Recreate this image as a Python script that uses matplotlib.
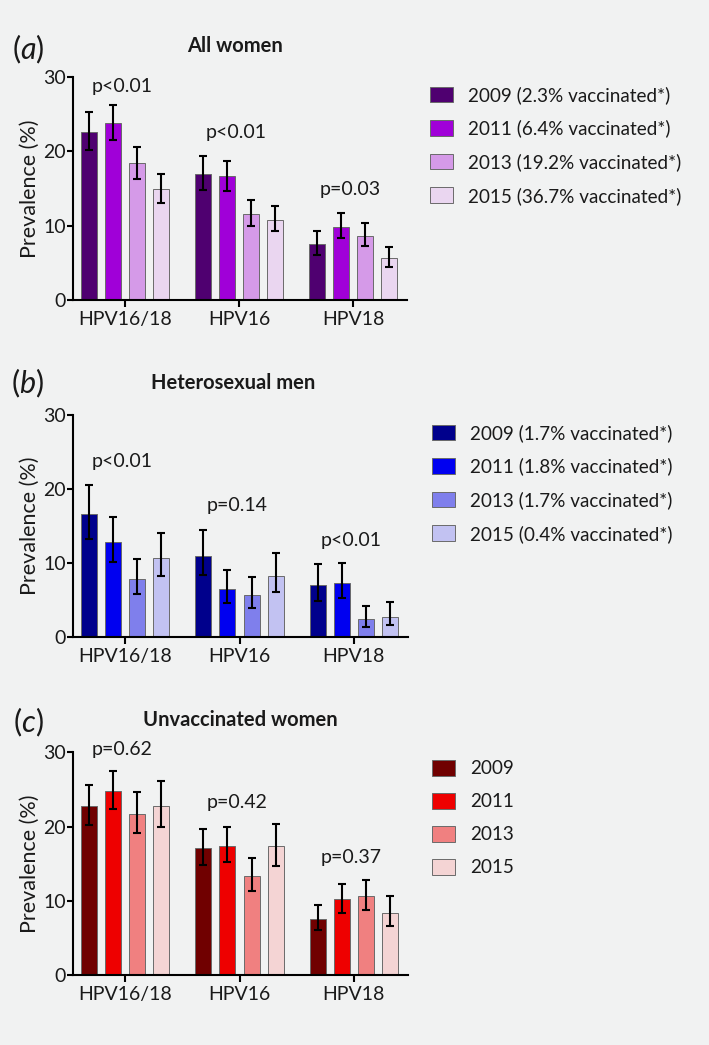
import matplotlib
matplotlib.use("Agg")
import matplotlib.pyplot as plt
import numpy as np

plt.rcParams['font.family'] = ['Lato', 'DejaVu Sans']
plt.rcParams['mathtext.fontset'] = 'custom'
plt.rcParams['mathtext.it'] = 'Lato:italic'
plt.rcParams['mathtext.rm'] = 'Lato'

categories = ['HPV16/18', 'HPV16', 'HPV18']
years = ['2009', '2011', '2013', '2015']

# Panel (a) All women
a_vals = [[22.6, 16.9, 7.5], [23.8, 16.6, 9.8], [18.4, 11.5, 8.6], [14.9, 10.8, 5.7]]
a_low = [[20.2, 14.8, 6.0], [21.5, 14.6, 8.3], [16.3, 9.9, 7.2], [13.0, 9.3, 4.5]]
a_high = [[25.2, 19.3, 9.3], [26.2, 18.7, 11.7], [20.6, 13.4, 10.3], [16.9, 12.6, 7.1]]
a_pvals = ['p<0.01', 'p<0.01', 'p=0.03']
a_py = [28.7, 22.5, 14.8]
a_labels = ['2009 (2.3% vaccinated*)', '2011 (6.4% vaccinated*)',
            '2013 (19.2% vaccinated*)', '2015 (36.7% vaccinated*)']
a_colors = ['#4f0070', '#a000d8', '#d59ae8', '#ead6f0']

# Panel (b) Heterosexual men
b_vals = [[16.6, 11.0, 7.0], [12.9, 6.5, 7.3], [7.8, 5.7, 2.4], [10.7, 8.3, 2.7]]
b_low = [[13.2, 8.4, 4.9], [10.2, 4.6, 5.3], [5.8, 4.0, 1.4], [8.2, 6.1, 1.6]]
b_high = [[20.5, 14.5, 9.9], [16.2, 9.1, 10.0], [10.5, 8.1, 4.2], [14.0, 11.3, 4.7]]
b_pvals = ['p<0.01', 'p=0.14', 'p<0.01']
b_py = [23.7, 17.7, 13.0]
b_labels = ['2009 (1.7% vaccinated*)', '2011 (1.8% vaccinated*)',
            '2013 (1.7% vaccinated*)', '2015 (0.4% vaccinated*)']
b_colors = ['#00008c', '#0000f0', '#7f7fec', '#c2c2f2']

# Panel (c) Unvaccinated women
c_vals = [[22.8, 17.1, 7.5], [24.8, 17.4, 10.2], [21.7, 13.3, 10.6], [22.8, 17.4, 8.4]]
c_low = [[20.2, 14.8, 6.0], [22.4, 15.2, 8.4], [19.1, 11.3, 8.7], [19.9, 14.7, 6.6]]
c_high = [[25.6, 19.7, 9.4], [27.5, 19.9, 12.2], [24.6, 15.8, 12.8], [26.1, 20.3, 10.7]]
c_pvals = ['p=0.62', 'p=0.42', 'p=0.37']
c_py = [30.4, 23.2, 15.8]
c_labels = ['2009', '2011', '2013', '2015']
c_colors = ['#700000', '#ee0000', '#f08080', '#f4d4d4']

panel_letters = ['a', 'b', 'c']
panel_titles = ['All women', 'Heterosexual men', 'Unvaccinated women']

BG = '#f1f2f2'
TXT = '#1a1a1a'
W, H = 709, 1045
fig = plt.figure(figsize=(W / 100, H / 100), dpi=100, facecolor=BG)

def fx(px):
    return px / W

def fy(py):
    return 1 - py / H

panels = [
    dict(vals=a_vals, low=a_low, high=a_high, pv=a_pvals, py=a_py, labels=a_labels, colors=a_colors,
         ax=(72.7, 407, 76.7, 300), leg=(430, 86), title=(235, 46), letter_y=49),
    dict(vals=b_vals, low=b_low, high=b_high, pv=b_pvals, py=b_py, labels=b_labels, colors=b_colors,
         ax=(72.7, 408, 414.7, 637.3), leg=(432, 424), title=(233, 383), letter_y=383),
    dict(vals=c_vals, low=c_low, high=c_high, pv=c_pvals, py=c_py, labels=c_labels, colors=c_colors,
         ax=(72.7, 408, 752.3, 975), leg=(432, 760), title=(240, 720), letter_y=722),
]

group_gap = 4.75
bar_w = 0.667
centers = np.arange(len(categories)) * group_gap

for k, p in enumerate(panels):
    x0, x1, y0, y1 = p['ax']
    ax = fig.add_axes([fx(x0), fy(y1), (x1 - x0) / W, (y1 - y0) / H])
    ax.set_facecolor(BG)
    handles = []
    for j in range(len(years)):
        xs = centers + (j - 1.5)
        v = np.array(p['vals'][j])
        lo = v - np.array(p['low'][j])
        hi = np.array(p['high'][j]) - v
        b = ax.bar(xs, v, width=bar_w, color=p['colors'][j], edgecolor='#6a6a6a',
                   linewidth=0.7, zorder=2)
        ax.errorbar(xs, v, yerr=[lo, hi], fmt='none', ecolor='black', elinewidth=1.5,
                    capsize=3, capthick=1.5, zorder=3)
        handles.append(b)
    for i, txt in enumerate(p['pv']):
        ax.text(centers[i] - 0.12, p['py'][i], txt, ha='center', va='center',
                fontsize=14, color=TXT)
    ax.set_xlim(-2.18, centers[-1] + 2.25)
    ax.set_ylim(0, 30)
    ax.set_yticks([0, 10, 20, 30])
    ax.set_xticks(centers)
    ax.set_xticklabels(categories)
    for s in ['top', 'right']:
        ax.spines[s].set_visible(False)
    for s in ['left', 'bottom']:
        ax.spines[s].set_linewidth(1.5)
        ax.spines[s].set_color('black')
    ax.tick_params(axis='y', length=4, width=1.5, pad=1, labelsize=14, labelcolor=TXT)
    ax.tick_params(axis='x', length=5, width=1.5, pad=3, labelsize=14, labelcolor=TXT)
    ax.set_ylabel('Prevalence (%)', fontsize=15.5, color=TXT)
    ax.yaxis.set_label_coords((40 - x0) / (x1 - x0), 0.5)

    lx, ly = p['leg']
    leg = ax.legend(handles, p['labels'], loc='upper left',
                    bbox_to_anchor=(fx(lx), fy(ly)), bbox_transform=fig.transFigure,
                    frameon=False, borderpad=0, borderaxespad=0, fontsize=13.6,
                    handlelength=1.21, handleheight=0.9, handletextpad=0.8,
                    labelspacing=0.83)
    for t in leg.get_texts():
        t.set_color(TXT)

    tx, ty = p['title']
    fig.text(fx(tx), fy(ty), panel_titles[k], ha='center', va='center',
             fontsize=14.5, fontweight='bold', color=TXT)
    fig.text(fx(28), fy(p['letter_y']), r'($\mathit{' + panel_letters[k] + r'}$)',
             ha='center', va='center', fontsize=22, color=TXT)

fig.savefig('out.png', dpi=100, facecolor=BG)
